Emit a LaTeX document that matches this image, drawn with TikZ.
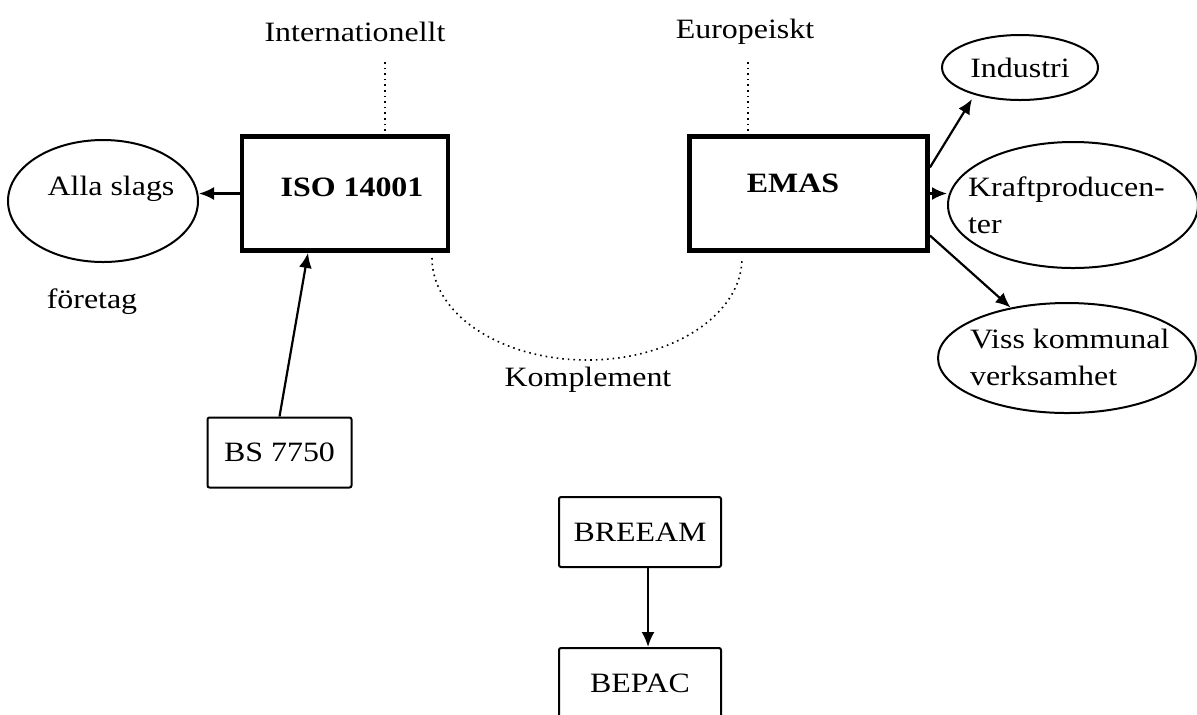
\documentclass[tikz,border=0pt]{standalone}
\usepackage{fontspec}
\setmainfont{Liberation Serif}[FakeStretch=1.14]
\usepackage{tikz}
\usetikzlibrary{shapes.geometric}
\usetikzlibrary{arrows.meta}
\newcommand{\diafont}{\fontsize{14}{18.5}\selectfont}

\begin{document}
\begin{tikzpicture}[x=0.5pt,y=-0.5pt,font=\diafont]
		\tikzstyle{bigbox} = [draw, rectangle, line width=2.4pt, minimum height=57pt, inner sep=0pt]
		\tikzstyle{smallbox} = [draw, rectangle, line width=1pt, rounded corners=1pt, minimum height=35pt]
		\tikzstyle{oval} = [draw, ellipse, line width=1pt, inner sep=0pt]
		\tikzstyle{link} = [-{Latex[length=7.5pt,width=6.5pt]}, line width=1.1pt]
		\tikzstyle{dots} = [dotted, line width=0.8pt]
		\useasboundingbox (0,0) rectangle (1197,714);

		\node (intl) at (355,32) {Internationellt};
		\node (euro) at (745,32) {Europeiskt};
		\node [bigbox, minimum width=103pt] (iso) at (345,193.5) {};
		\node [font=\diafont\bfseries] (isotext) at (352,187) {ISO 14001};
		\node [bigbox, minimum width=119pt] (emas) at (808.5,193.5) {};
		\node [font=\diafont\bfseries] (emastext) at (793,183) {EMAS};

		\node [oval, minimum width=95pt, minimum height=61pt] (alla) at (103,201) {};
		\node (allatext) at (111,189) {Alla slags};
		\node (foretag) at (92,302) {företag};
		\node [oval, minimum width=78pt, minimum height=32.5pt] (ind) at (1020,67.5) {Industri};
		\node [oval, minimum width=125pt, minimum height=63pt] (kraft) at (1073,205) {};
		\node [align=left, anchor=west] (krafttext) at (961,205) {Kraftproducen-\\ter};
		\node [oval, minimum width=129pt, minimum height=55pt] (viss) at (1067,358) {};
		\node [align=left, anchor=west] (visstext) at (963,357) {Viss kommunal\\verksamhet};

		\node [smallbox, minimum width=72pt] (bs) at (279.5,452.5) {BS 7750};
		\node [smallbox, minimum width=81pt] (breeam) at (640,532) {BREEAM};
		\node [smallbox, minimum width=81pt] (bepac) at (640,683) {BEPAC};
		\node (kompl) at (588,380) {Komplement};

		\coordinate (intlend) at (385,62);
		\coordinate (euroend) at (748,62);
		\coordinate (arcstart) at (432,258);
		\draw[dots] (intlend) -- (intlend |- iso.north);
		\draw[dots] (euroend) -- (euroend |- emas.north);
		\draw[dots] (arcstart) arc[start angle=180, end angle=360, x radius=77.5pt, y radius=51pt];

		\draw[link] (iso.west) -- (iso.west -| alla.east);
		\draw[link] (bs.north) -- ([xshift=-18.5pt]iso.south);
		\draw[link] ([yshift=13pt]emas.east) -- ([xshift=-24pt,yshift=1pt]ind.south);
		\draw[link] (emas.east) -- (emas.east -| kraft.west);
		\draw[link] ([yshift=-21pt]emas.east) -- (viss);
		\draw[link] ([xshift=4pt]breeam.south) -- ([xshift=4pt]bepac.north);
		%\draw[link] (emas.south) -- (iso.south);
	\end{tikzpicture}
\end{document}
